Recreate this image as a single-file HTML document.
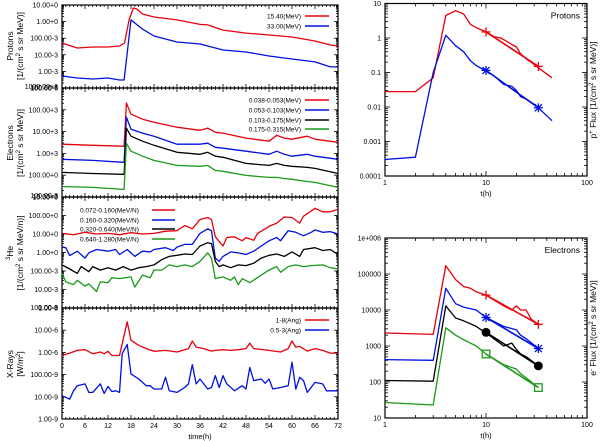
<!DOCTYPE html>
<html><head><meta charset="utf-8">
<style>
body{margin:0;background:#fff;}
svg{display:block;font-family:"Liberation Sans",sans-serif;}
</style></head>
<body>
<svg id="c" width="600" height="441" viewBox="0 0 600 441" xmlns="http://www.w3.org/2000/svg"></svg>
<script>
// ---------- data (log10 values) ----------
const pRedT=[0,4,8,12,15,16.3,17.5,18.6,19.5,21,24,30,36,38,42,48,54,60,66,70,72];
const pRedV=[-1.29,-1.59,-1.53,-1.53,-1.47,-1.29,0.1,0.82,0.76,0.46,0.28,0.1,-0.17,-0.2,-0.51,-0.69,-0.81,-0.93,-1.17,-1.41,-1.47];
const pBlueT=[0,4,8,12,15,16.2,18,21,24,30,36,38,42,48,54,60,66,70,72];
const pBlueV=[-3.28,-3.40,-3.46,-3.40,-3.52,-3.52,0.1,-0.45,-0.87,-1.23,-1.35,-1.47,-1.71,-1.83,-2.07,-2.25,-2.43,-2.73,-2.73];
const eT=[0,8,16,16.2,16.8,18,21,24,30,36,38,40,42,48,54,56,58,60,64,66,72];
const eRedV=[3.42,3.37,3.33,3.33,5.31,4.80,4.57,4.43,4.20,4.06,4.16,3.97,3.93,3.70,3.56,3.83,3.70,3.65,3.79,3.65,3.51];
const eBlueV=[2.73,2.68,2.59,2.59,4.66,4.11,3.93,3.79,3.42,3.42,3.47,3.28,3.24,3.10,2.96,3.10,2.96,2.87,2.96,2.87,2.73];
const eBlackV=[2.13,2.08,2.04,2.04,4.16,3.79,3.56,3.37,3.05,2.96,3.05,2.87,2.82,2.54,2.45,2.54,2.45,2.41,2.36,2.31,2.08];
const eGreenV=[1.48,1.44,1.35,1.35,3.47,3.10,2.87,2.68,2.45,2.41,2.45,2.22,2.18,1.99,1.90,1.90,1.85,1.81,1.71,1.67,1.44];
const hRedT=[0,3,6,9,12,15,18,21,24,27,30,32,34,36,38,39,40,42,43,45,47,48,50,51,54,56,58,60,62,63,66,68,70,72];
const hRedV=[1.03,0.96,1.09,1.0,1.03,0.96,1.07,1.0,1.03,1.15,1.18,1.46,1.28,1.78,1.89,1.78,0.85,0.35,0.81,0.85,0.63,0.81,0.66,1.03,1.41,1.59,1.92,1.89,1.59,1.96,2.39,2.2,2.2,2.33];
const hBlueT=[0,1,2,4,6,7,9,12,14,15,17,19,21,23,24,27,29,30,32,34,36,38,39,40,41,42,44,46,48,50,52,54,56,57,59,61,63,65,66,68,70,72];
const hBlueV=[0.29,0.26,-0.17,0.07,-0.30,-0.02,0.16,0.07,0.16,-0.11,0.16,-0.21,0.07,0.03,0.16,0.26,0.11,0.29,0.44,0.44,1.03,1.28,1.18,-0.30,-0.48,-0.21,0.03,-0.02,-0.11,0.07,0.35,0.63,0.81,0.63,1.18,1.09,0.9,1.09,1.22,1.09,1.13,1.0];
const hBlackT=[0,2,4,5,7,8,10,12,14,16,18,20,22,24,26,28,30,32,34,36,38,39,40,41,42,44,46,48,50,52,54,56,58,60,62,63,66,68,70,72];
const hBlackV=[-0.67,-0.89,-1.13,-0.76,-1.04,-0.76,-0.95,-0.82,-0.95,-0.76,-0.95,-0.82,-0.76,-0.67,-0.39,-0.21,-0.15,-0.08,-0.11,0.35,0.53,0.48,-0.48,-0.76,-0.67,-0.82,-0.67,-0.71,-0.58,-0.30,-0.15,-0.08,-0.21,0.03,-0.21,0.16,0.26,0.11,0.16,-0.11];
const hGreenT=[0,1,3,4,6,7,9,10,12,13,15,18,19,21,23,24,26,28,30,32,34,36,38,39,40,42,44,45,46,47,49,52,54,56,57,59,61,63,65,68,70,72];
const hGreenV=[-1.13,-1.59,-1.74,-1.5,-1.82,-1.69,-2.11,-1.59,-1.63,-1.37,-1.41,-1.32,-1.87,-1.22,-1.37,-0.95,-0.95,-0.67,-0.76,-0.67,-0.76,-0.48,-0.02,-0.30,-1.41,-1.32,-1.5,-1.32,-1.74,-1.41,-1.63,-1.22,-0.95,-0.76,-1.07,-0.76,-0.67,-0.76,-0.71,-0.67,-0.82,-0.89];
const xRedT=[0,2,4,6,8,10,11,12,13,15,15.7,17,18,20,22,24,27,30,33,34,35,37,39,40,42,44,46,48,49,50,54,57,59,60,61,62,64,66,68,70,72];
const xRedV=[-6.14,-6.03,-5.91,-5.88,-6.06,-5.98,-6.06,-5.95,-6.14,-6.14,-5.61,-4.62,-5.45,-5.68,-5.83,-5.95,-5.91,-5.98,-5.83,-5.49,-5.76,-5.83,-5.94,-5.91,-5.88,-5.91,-5.88,-5.83,-5.58,-5.83,-5.91,-5.98,-5.83,-5.49,-5.76,-5.73,-5.94,-5.83,-5.91,-6.03,-6.03];
const xBlueT=[0,2,3,4,6,7,8,10,11,12,13,14,15,15.7,17,18,20,22,23,24,26,27,28,30,32,33,34,35,36,38,39,40,41,42,43,45,47,48,49,50,52,53,54,55,57,59,60,61,62,63,64,66,68,69,72];
const xBlueV=[-7.95,-8.11,-7.73,-7.5,-7.42,-7.8,-7.8,-7.42,-7.85,-7.53,-7.76,-7.73,-7.8,-6.06,-5.64,-6.97,-7.2,-7.5,-7.5,-7.65,-7.65,-7.12,-7.73,-7.8,-7.58,-7.42,-6.55,-7.42,-7.2,-7.65,-7.58,-7.05,-7.58,-7.05,-7.42,-7.73,-7.5,-7.65,-6.68,-7.27,-7.2,-7.39,-7.2,-7.65,-7.58,-7.5,-6.44,-7.65,-7.12,-7.27,-7.8,-7.35,-7.42,-7.73,-7.73];
// right panels (linear values)
const rpRedT=[1,2,3,4,5,6,7,8,10,12,14,16,18,20,22,25,30,35,45];
const rpRedV=[0.028,0.028,0.07,4.5,6.2,5,2.5,2,1.5,1.1,1,0.8,0.65,0.55,0.35,0.25,0.17,0.12,0.07];
const rpBlueT=[1,2,3,4,5,6,7,8,10,12,15,18,20,22,25,30,35,45];
const rpBlueV=[0.0003,0.00035,0.1,1.2,0.6,0.4,0.22,0.16,0.11,0.08,0.045,0.04,0.03,0.02,0.017,0.012,0.008,0.004];
const rpFitT=[10,33];
const rpRedFit=[1.5,0.15];
const rpBlueFit=[0.115,0.0095];
const reRedT=[1,3,4,5,6,7,8,10,15,18,20,22,25,28,33];
const reRedV=[2300,2100,170000,70000,45000,40000,32000,26000,13000,10000,13000,10000,10000,5500,4000];
const reBlueT=[1,3,4,5,6,8,10,15,20,22,25,33];
const reBlueV=[420,400,40000,15000,12000,10000,6200,3500,2800,2000,1600,850];
const reBlackT=[1,3,4,5,6,8,10,15,18,20,22,25,33];
const reBlackV=[110,105,13000,6000,5000,3500,2300,1000,1200,800,600,500,280];
const reGreenT=[1,3,4,5,6,8,10,15,20,22,25,33];
const reGreenV=[27,23,3200,2000,1500,1000,600,300,230,170,130,70];
const reFitT=[10,33];
const reRedFit=[26000,4000];
const reBlueFit=[6200,850];
const reBlackFit=[2400,280];
const reGreenFit=[600,70];

const NS="http://www.w3.org/2000/svg";
const svg=document.getElementById('c');
function el(tag,attrs,parent){const e=document.createElementNS(NS,tag);for(const k in attrs)e.setAttribute(k,attrs[k]);(parent||svg).appendChild(e);return e;}
function txt(s,x,y,anchor,size,parent,rot){const t=el('text',{x:x,y:y,'text-anchor':anchor||'middle','font-size':size||7.5,fill:'#000'},parent);if(rot)t.setAttribute('transform','rotate(-90 '+x+' '+y+')');t.textContent=s;return t;}
const COL={red:'#e8000b',blue:'#0010e0',black:'#000',green:'#1a9a1a'};

// ---------- left panels ----------
const LX0=62,LX1=338;
const tx=t=>LX0+(t/72)*(LX1-LX0);
const panels=[
 {name:'protons',top:5,bot:88,lmax:1,lmin:-4,labels:['10.00+0','1.00+0','100.00-3','10.00-3','1.00-3','100.00-6']},
 {name:'electrons',top:88,bot:197,lmax:6,lmin:1,labels:['','100.00+3','10.00+3','1.00+3','100.00+0','10.00+0']},
 {name:'he3',top:197,bot:308,lmax:3,lmin:-3,labels:['','100.00+0','10.00+0','1.00+0','100.00-3','10.00-3','1.00-3']},
 {name:'xrays',top:308,bot:419,lmax:-4,lmin:-9,labels:['','10.00-6','1.00-6','100.00-9','10.00-9','1.00-9']}
];
panels.forEach(p=>{p.y=v=>p.top+(p.lmax-v)/(p.lmax-p.lmin)*(p.bot-p.top);});
panels.forEach((p,i)=>{
 const g=el('g',{});
 
 
 el('rect',{x:LX0,y:p.top,width:LX1-LX0,height:p.bot-p.top,fill:'none',stroke:'#000','stroke-width':1.2},g);
 // x ticks
 for(let t=0;t<=72;t++){const x=tx(t);const L=t%6==0?4:2;
  el('line',{x1:x,y1:p.bot,x2:x,y2:p.bot-L,stroke:'#000','stroke-width':0.8},g);
  el('line',{x1:x,y1:p.top,x2:x,y2:p.top+L,stroke:'#000','stroke-width':0.8},g);}
 // y ticks
 for(let d=p.lmin;d<=p.lmax;d++){
  for(let m=1;m<10;m++){const v=d+Math.log10(m);if(v>p.lmax+1e-9)break;const y=p.y(v);const L=m==1?4:2;
   el('line',{x1:LX0,y1:y,x2:LX0+L,y2:y,stroke:'#000','stroke-width':0.8},g);
   el('line',{x1:LX1,y1:y,x2:LX1-L,y2:y,stroke:'#000','stroke-width':0.8},g);}
  const lab=p.labels[p.lmax-d];
  if(lab){const t=txt(lab,58,p.y(d)+2.5,'end',7,g);}
 }
});
// overlapping boundary labels
txt('100.00-6',58,90,'end',7);txt('1000.00+3',58,89,'end',7);
txt('10.00+3',58,199,'end',7);txt('100.00-3',58,198,'end',7);
txt('1.00-3',58,310,'end',7);txt('100.00-6',58,310,'end',7);
// x tick labels
for(let t=0;t<=72;t+=6){const l=txt(String(t),tx(t),428,'middle',7);}
const xt=txt('time(h)',200,439,'middle',7.5);

function lline(p,T,V,col,name){const d=T.map((t,i)=>(i?'L':'M')+tx(t).toFixed(1)+','+p.y(V[i]).toFixed(1)).join('');
 const e=el('path',{d:d,fill:'none',stroke:col,'stroke-width':1.3,'stroke-linejoin':'round'});
 }
lline(panels[0],pRedT,pRedV,COL.red,'protons-15mev-line');
lline(panels[0],pBlueT,pBlueV,COL.blue,'protons-33mev-line');
lline(panels[1],eT,eRedV,COL.red,'electrons-038-053-line');
lline(panels[1],eT,eBlueV,COL.blue,'electrons-053-103-line');
lline(panels[1],eT,eBlackV,COL.black,'electrons-103-175-line');
lline(panels[1],eT,eGreenV,COL.green,'electrons-175-315-line');
lline(panels[2],hRedT,hRedV,COL.red,'he3-072-160-line');
lline(panels[2],hBlueT,hBlueV,COL.blue,'he3-160-320-line');
lline(panels[2],hBlackT,hBlackV,COL.black,'he3-320-640-line');
lline(panels[2],hGreenT,hGreenV,COL.green,'he3-640-1280-line');
lline(panels[3],xRedT,xRedV,COL.red,'xray-1-8-line');
lline(panels[3],xBlueT,xBlueV,COL.blue,'xray-05-3-line');

function legR(label,y,col){const g=el('g',{});
 txt(label,301,y+2.5,'end',6.5,g);el('line',{x1:305,y1:y,x2:329,y2:y,stroke:col,'stroke-width':1.5},g);}
legR('15.40(MeV)',16,COL.red);legR('33.00(MeV)',26,COL.blue);
legR('0.038-0.053(MeV)',100,COL.red);legR('0.053-0.103(MeV)',110,COL.blue);legR('0.103-0.175(MeV)',120,COL.black);legR('0.175-0.315(MeV)',129,COL.green);
legR('1-8(Ang)',320,COL.red);legR('0.5-3(Ang)',330,COL.blue);
function legL(label,y,col){const g=el('g',{});
 txt(label,80,y+2.5,'start',6.5,g);el('line',{x1:152,y1:y,x2:175,y2:y,stroke:col,'stroke-width':1.5},g);}
legL('0.072-0.160(MeV/N)',210,COL.red);legL('0.160-0.320(MeV/N)',220,COL.blue);legL('0.320-0.640(MeV/N)',229,COL.black);legL('0.640-1.280(MeV/N)',239,COL.green);

// left y-axis titles
function ytitle(lines,cy,name){const g=el('g',{});
 lines.forEach((s,i)=>{const t=el('text',{x:0,y:0,'text-anchor':'middle','font-size':8.5,transform:'translate('+(13+i*10)+','+cy+') rotate(-90)'},g);t.innerHTML=s;});}
ytitle(['Protons','[1/(cm<tspan dy="-3" font-size="6">2</tspan><tspan dy="3"> s sr MeV)]</tspan>'],46,'protons-y-title');
ytitle(['Electrons','[1/(cm<tspan dy="-3" font-size="6">2</tspan><tspan dy="3"> s sr MeV)]</tspan>'],143,'electrons-y-title');
ytitle(['<tspan dy="-3" font-size="6">3</tspan><tspan dy="3">He</tspan>','[1/(cm<tspan dy="-3" font-size="6">2</tspan><tspan dy="3"> s sr MeV/n)]</tspan>'],253,'he3-y-title');
ytitle(['X-Rays','[W/m<tspan dy="-3" font-size="6">2</tspan><tspan dy="3">]</tspan>'],364,'xrays-y-title');

// ---------- right panels ----------
const RX0=385,RX1=587;
const rx=t=>RX0+Math.log10(t)/2*(RX1-RX0);
function rpanel(name,top,bot,lmin,lmax,ylabels,title,ytitleS,ycenter,tickY,tY){
 const ry=v=>bot-(Math.log10(v)-lmin)/(lmax-lmin)*(bot-top);
 const g=el('g',{});
 el('rect',{x:RX0,y:top,width:RX1-RX0,height:bot-top,fill:'none',stroke:'#000','stroke-width':1.2},g);
 for(let d=0;d<2;d++)for(let m=1;m<10;m++){const x=rx(Math.pow(10,d)*m);const L=m==1?5:3;
  el('line',{x1:x,y1:bot,x2:x,y2:bot-L,stroke:'#000','stroke-width':0.8},g);el('line',{x1:x,y1:top,x2:x,y2:top+L,stroke:'#000','stroke-width':0.8},g);}
 for(let d=lmin;d<lmax;d++)for(let m=1;m<10;m++){const y=ry(Math.pow(10,d)*m);const L=m==1?5:3;
  el('line',{x1:RX0,y1:y,x2:RX0+L,y2:y,stroke:'#000','stroke-width':0.8},g);el('line',{x1:RX1,y1:y,x2:RX1-L,y2:y,stroke:'#000','stroke-width':0.8},g);}
 ylabels.forEach((s,i)=>txt(s,381,ry(Math.pow(10,lmin+i))+2.5,'end',7,g));
 ['1','10','100'].forEach((s,i)=>txt(s,rx(Math.pow(10,i)),tickY,'middle',7,g));
 txt('t(h)',rx(10),tY,'middle',7.5,g);
 txt(title,580,top+15,'end',8.5,g);
 const yt=el('text',{x:0,y:0,'text-anchor':'middle','font-size':8.5,transform:'translate(596,'+ycenter+') rotate(-90)'},g);yt.innerHTML=ytitleS;
 return ry;}
const ry1=rpanel('protons-fluence-panel',3.5,176,-4,1,['0.0001','0.001','0.01','0.1','1','10'],'Protons','p<tspan dy="-3" font-size="6">+</tspan><tspan dy="3"> Flux [1/(cm</tspan><tspan dy="-3" font-size="6">2</tspan><tspan dy="3"> s sr MeV)]</tspan>',90,185,196);
const ry2=rpanel('electrons-fluence-panel',238,418,1,6,['10','100','1000','10000','100000','1e+006'],'Electrons','e<tspan dy="-3" font-size="6">-</tspan><tspan dy="3"> Flux [1/(cm</tspan><tspan dy="-3" font-size="6">2</tspan><tspan dy="3"> s sr MeV)]</tspan>',328,427,438);

function rline(ry,T,V,col,name,w){const d=T.map((t,i)=>(i?'L':'M')+rx(t).toFixed(1)+','+ry(V[i]).toFixed(1)).join('');
 const e=el('path',{d:d,fill:'none',stroke:col,'stroke-width':w||1.3,'stroke-linejoin':'round'});
 }
function marker(type,x,y,col){const g=el('g',{stroke:col,'stroke-width':1.3,fill:'none'});
 
 const s=4.5;
 if(type=='plus'||type=='star'){el('line',{x1:x-s,y1:y,x2:x+s,y2:y},g);el('line',{x1:x,y1:y-s,x2:x,y2:y+s},g);}
 if(type=='star'){el('line',{x1:x-3.5,y1:y-3.5,x2:x+3.5,y2:y+3.5},g);el('line',{x1:x-3.5,y1:y+3.5,x2:x+3.5,y2:y-3.5},g);}
 if(type=='circle'){el('circle',{cx:x,cy:y,r:3.8,fill:col},g);}
 if(type=='square'){el('rect',{x:x-3.8,y:y-3.8,width:7.6,height:7.6},g);}}
function fit(ry,T,V,col,type,name){rline(ry,T,V,col,name,1.6);T.forEach((t,i)=>marker(type,rx(t),ry(V[i]),col));}
rline(ry1,rpRedT,rpRedV,COL.red,'proton-15mev-fluence');
rline(ry1,rpBlueT,rpBlueV,COL.blue,'proton-33mev-fluence');
fit(ry1,rpFitT,rpRedFit,COL.red,'plus','proton-15mev-fit');
fit(ry1,rpFitT,rpBlueFit,COL.blue,'star','proton-33mev-fit');
rline(ry2,reRedT,reRedV,COL.red,'electron-ch1-fluence');
rline(ry2,reBlueT,reBlueV,COL.blue,'electron-ch2-fluence');
rline(ry2,reBlackT,reBlackV,COL.black,'electron-ch3-fluence');
rline(ry2,reGreenT,reGreenV,COL.green,'electron-ch4-fluence');
fit(ry2,reFitT,reRedFit,COL.red,'plus','electron-ch1-fit');
fit(ry2,reFitT,reBlueFit,COL.blue,'star','electron-ch2-fit');
fit(ry2,reFitT,reBlackFit,COL.black,'circle','electron-ch3-fit');
fit(ry2,reFitT,reGreenFit,COL.green,'square','electron-ch4-fit');
</script>
</body></html>
